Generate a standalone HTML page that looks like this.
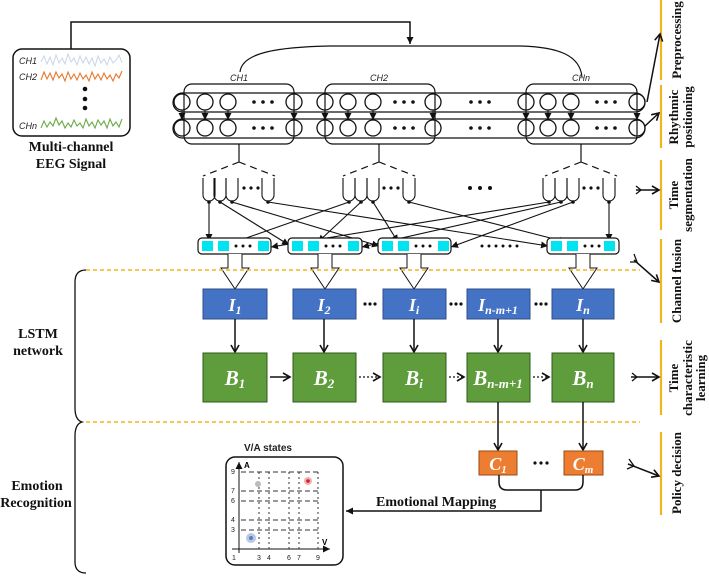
<!DOCTYPE html>
<html><head><meta charset="utf-8"><style>
html,body{margin:0;padding:0;background:#fff;}
svg{display:block;}
.lb{font-family:"Liberation Serif",serif;font-weight:bold;font-size:13px;fill:#111;}
.ch{font-family:"Liberation Sans",sans-serif;font-style:italic;font-size:9px;fill:#222;}
.bx{font-family:"Liberation Serif",serif;font-style:italic;font-weight:bold;fill:#fff;}
.sm{font-family:"Liberation Sans",sans-serif;font-size:7px;fill:#222;}
</style></head><body>
<svg width="709" height="583" viewBox="0 0 709 583" xmlns="http://www.w3.org/2000/svg">
<defs>
<marker id="a" markerWidth="8" markerHeight="8" refX="7" refY="4" orient="auto" markerUnits="userSpaceOnUse"><path d="M0,0.5 L7,4 L0,7.5 Z" fill="#111"/></marker>
<marker id="o" markerWidth="10" markerHeight="10" refX="8" refY="5" orient="auto" markerUnits="userSpaceOnUse"><path d="M1,1 L8,5 L1,9" fill="none" stroke="#111" stroke-width="1.6"/></marker>
</defs>

<rect x="13" y="49" width="117" height="87" rx="9" fill="#fff" stroke="#111" stroke-width="1.5"/>
<text class="ch" x="19" y="64">CH1</text>
<text class="ch" x="19" y="80">CH2</text>
<text class="ch" x="19" y="129">CHn</text>
<polyline fill="none" stroke="#c9d5ea" stroke-width="1" points="41,62 44,56 47,64 50,57 53,65 56,55 59,63 62,58 65,64 68,54 71,62 74,58 77,65 80,56 83,63 86,57 89,64 92,58 95,66 98,56 101,63 104,59 107,65 110,57 113,63 116,60 119,55 122,63"/>
<polyline fill="none" stroke="#e8782e" stroke-width="1.1" points="41,80 44,72 47,79 50,73 53,80 56,72 59,78 62,74 65,81 68,72 71,79 74,74 77,80 80,73 83,79 86,75 89,81 92,72 95,79 98,74 101,80 104,73 107,79 110,75 113,81 116,74 119,78 122,71"/>
<polyline fill="none" stroke="#6aaa45" stroke-width="1.1" points="41,128 44,121 47,127 50,122 53,126 56,118 59,125 62,121 65,128 68,123 71,127 74,120 77,126 80,123 83,128 86,119 89,126 92,122 95,128 98,120 101,125 104,121 107,128 110,119 113,126 116,122 119,127 122,119"/>
<circle cx="85" cy="89" r="2.3" fill="#111"/><circle cx="85" cy="99" r="2.3" fill="#111"/><circle cx="85" cy="108" r="2.3" fill="#111"/>
<text class="lb" x="71" y="151" text-anchor="middle" style="font-size:14px">Multi-channel</text>
<text class="lb" x="71" y="168" text-anchor="middle" style="font-size:14px">EEG Signal</text>

<polyline points="71,49 71,22 410,22 410,44" fill="none" stroke="#111" stroke-width="1.5" marker-end="url(#a)"/>
<path d="M240,72 C242,52 280,47 330,46 L520,46 C560,47 580,56 582,77" fill="none" stroke="#111" stroke-width="1.2"/>
<text class="ch" x="230" y="81">CH1</text>
<text class="ch" x="370" y="81">CH2</text>
<text class="ch" x="572" y="81">CHn</text>

<rect x="173" y="93" width="472" height="19" rx="9.5" fill="none" stroke="#111" stroke-width="1.2"/>
<rect x="173" y="119" width="472" height="19" rx="9.5" fill="none" stroke="#111" stroke-width="1.2"/>
<rect x="184" y="84" width="110" height="60" rx="8" fill="none" stroke="#111" stroke-width="1.2"/>
<rect x="325" y="84" width="110" height="60" rx="8" fill="none" stroke="#111" stroke-width="1.2"/>
<rect x="526" y="84" width="111" height="60" rx="8" fill="none" stroke="#111" stroke-width="1.2"/>
<g fill="none" stroke="#111" stroke-width="1.3">
<circle cx="182" cy="102" r="8"/><circle cx="205" cy="102" r="8"/><circle cx="228" cy="102" r="8"/><circle cx="294" cy="102" r="8"/>
<circle cx="325" cy="102" r="8"/><circle cx="348" cy="102" r="8"/><circle cx="373" cy="102" r="8"/><circle cx="433" cy="102" r="8"/>
<circle cx="526" cy="102" r="8"/><circle cx="548" cy="102" r="8"/><circle cx="571" cy="102" r="8"/><circle cx="637" cy="102" r="8"/>
<circle cx="182" cy="128" r="8"/><circle cx="205" cy="128" r="8"/><circle cx="228" cy="128" r="8"/><circle cx="294" cy="128" r="8"/>
<circle cx="325" cy="128" r="8"/><circle cx="348" cy="128" r="8"/><circle cx="373" cy="128" r="8"/><circle cx="433" cy="128" r="8"/>
<circle cx="526" cy="128" r="8"/><circle cx="548" cy="128" r="8"/><circle cx="571" cy="128" r="8"/><circle cx="637" cy="128" r="8"/>
</g>
<g fill="#111">
<circle cx="254" cy="102" r="1.8"/><circle cx="263" cy="102" r="1.8"/><circle cx="272" cy="102" r="1.8"/>
<circle cx="254" cy="128" r="1.8"/><circle cx="263" cy="128" r="1.8"/><circle cx="272" cy="128" r="1.8"/>
<circle cx="395" cy="102" r="1.8"/><circle cx="404" cy="102" r="1.8"/><circle cx="413" cy="102" r="1.8"/>
<circle cx="395" cy="128" r="1.8"/><circle cx="404" cy="128" r="1.8"/><circle cx="413" cy="128" r="1.8"/>
<circle cx="471" cy="102" r="1.8"/><circle cx="480" cy="102" r="1.8"/><circle cx="489" cy="102" r="1.8"/>
<circle cx="471" cy="128" r="1.8"/><circle cx="480" cy="128" r="1.8"/><circle cx="489" cy="128" r="1.8"/>
<circle cx="597" cy="102" r="1.8"/><circle cx="606" cy="102" r="1.8"/><circle cx="615" cy="102" r="1.8"/>
<circle cx="597" cy="128" r="1.8"/><circle cx="606" cy="128" r="1.8"/><circle cx="615" cy="128" r="1.8"/>
</g>
<g stroke="#111" stroke-width="1" marker-end="url(#a)">
<line x1="182" y1="110" x2="182" y2="120"/><line x1="205" y1="110" x2="205" y2="120"/><line x1="228" y1="110" x2="228" y2="120"/><line x1="294" y1="110" x2="294" y2="120"/>
<line x1="325" y1="110" x2="325" y2="120"/><line x1="348" y1="110" x2="348" y2="120"/><line x1="373" y1="110" x2="373" y2="120"/><line x1="433" y1="110" x2="433" y2="120"/>
<line x1="526" y1="110" x2="526" y2="120"/><line x1="548" y1="110" x2="548" y2="120"/><line x1="571" y1="110" x2="571" y2="120"/><line x1="637" y1="110" x2="637" y2="120"/>
</g>

<g fill="none" stroke="#111" stroke-width="1.2">
<line x1="239" y1="144" x2="239" y2="162"/><path d="M239,162 L203,176 M239,162 L275,176" stroke-dasharray="7,5"/>
<line x1="379" y1="144" x2="379" y2="162"/><path d="M379,162 L343,176 M379,162 L415,176" stroke-dasharray="7,5"/>
<line x1="581" y1="144" x2="581" y2="162"/><path d="M581,162 L545,176 M581,162 L617,176" stroke-dasharray="7,5"/>
</g>
<g fill="none" stroke="#111" stroke-width="1.1">
<path d="M203,178 V195 A6,6 0 0 0 215,195 V178"/><path d="M214,178 V195 A6,6 0 0 0 226,195 V178"/><path d="M226,178 V195 A6,6 0 0 0 238,195 V178"/><path d="M262,178 V195 A6,6 0 0 0 274,195 V178"/>
<path d="M343,178 V195 A6,6 0 0 0 355,195 V178"/><path d="M355,178 V195 A6,6 0 0 0 367,195 V178"/><path d="M367,178 V195 A6,6 0 0 0 379,195 V178"/><path d="M403,178 V195 A6,6 0 0 0 415,195 V178"/>
<path d="M543,178 V195 A6,6 0 0 0 555,195 V178"/><path d="M555,178 V195 A6,6 0 0 0 567,195 V178"/><path d="M567,178 V195 A6,6 0 0 0 579,195 V178"/><path d="M603,178 V195 A6,6 0 0 0 615,195 V178"/>
</g>
<g fill="#111">
<circle cx="244" cy="188" r="1.6"/><circle cx="251" cy="188" r="1.6"/><circle cx="258" cy="188" r="1.6"/>
<circle cx="384" cy="188" r="1.6"/><circle cx="391" cy="188" r="1.6"/><circle cx="398" cy="188" r="1.6"/>
<circle cx="584" cy="188" r="1.6"/><circle cx="591" cy="188" r="1.6"/><circle cx="598" cy="188" r="1.6"/>
<circle cx="470" cy="188" r="2"/><circle cx="480" cy="188" r="2"/><circle cx="490" cy="188" r="2"/>
<circle cx="209" cy="202" r="1.8"/><circle cx="220" cy="202" r="1.8"/><circle cx="232" cy="202" r="1.8"/><circle cx="268" cy="202" r="1.8"/>
<circle cx="349" cy="202" r="1.8"/><circle cx="361" cy="202" r="1.8"/><circle cx="373" cy="202" r="1.8"/><circle cx="409" cy="202" r="1.8"/>
<circle cx="549" cy="202" r="1.8"/><circle cx="561" cy="202" r="1.8"/><circle cx="573" cy="202" r="1.8"/><circle cx="609" cy="202" r="1.8"/>
</g>
<g stroke="#111" stroke-width="1.1" marker-end="url(#a)">
<line x1="209" y1="202" x2="209" y2="241"/>
<line x1="220" y1="202" x2="289" y2="245"/>
<line x1="232" y1="202" x2="379" y2="246"/>
<line x1="268" y1="202" x2="548" y2="246"/>
<line x1="349" y1="202" x2="232" y2="243"/>
<line x1="361" y1="202" x2="318" y2="242"/>
<line x1="373" y1="202" x2="398" y2="242"/>
<line x1="409" y1="202" x2="566" y2="242"/>
<line x1="549" y1="202" x2="271" y2="247"/>
<line x1="561" y1="202" x2="362" y2="247"/>
<line x1="573" y1="202" x2="451" y2="247"/>
<line x1="609" y1="202" x2="609" y2="241"/>
</g>

<g fill="#fff" stroke="#111" stroke-width="1.2">
<rect x="198" y="238" width="73" height="16" rx="4"/><rect x="288" y="238" width="74" height="16" rx="4"/>
<rect x="378" y="238" width="73" height="16" rx="4"/><rect x="547" y="238" width="72" height="16" rx="4"/>
</g>
<g fill="#00e3f0">
<rect x="202" y="241" width="11" height="10"/><rect x="218" y="241" width="11" height="10"/><rect x="258" y="241" width="11" height="10"/>
<rect x="292" y="241" width="11" height="10"/><rect x="308" y="241" width="11" height="10"/><rect x="348" y="241" width="11" height="10"/>
<rect x="382" y="241" width="11" height="10"/><rect x="398" y="241" width="11" height="10"/><rect x="438" y="241" width="11" height="10"/>
<rect x="551" y="241" width="11" height="10"/><rect x="567" y="241" width="11" height="10"/><rect x="604" y="241" width="11" height="10"/>
</g>
<g fill="#111">
<circle cx="236" cy="246" r="1.5"/><circle cx="243" cy="246" r="1.5"/><circle cx="250" cy="246" r="1.5"/>
<circle cx="326" cy="246" r="1.5"/><circle cx="333" cy="246" r="1.5"/><circle cx="340" cy="246" r="1.5"/>
<circle cx="416" cy="246" r="1.5"/><circle cx="423" cy="246" r="1.5"/><circle cx="430" cy="246" r="1.5"/>
<circle cx="585" cy="246" r="1.5"/><circle cx="592" cy="246" r="1.5"/><circle cx="599" cy="246" r="1.5"/>
<circle cx="482" cy="246" r="1.5"/><circle cx="489" cy="246" r="1.5"/><circle cx="496" cy="246" r="1.5"/><circle cx="503" cy="246" r="1.5"/><circle cx="510" cy="246" r="1.5"/><circle cx="517" cy="246" r="1.5"/>
</g>
<g fill="#fff" stroke="#111" stroke-width="1">
<path d="M228,254 V268 H221 L235,289 L249,268 H242 V254"/>
<path d="M318,254 V268 H311 L325,289 L339,268 H332 V254"/>
<path d="M407,254 V268 H400 L414,289 L428,268 H421 V254"/>
<path d="M576,254 V268 H569 L583,289 L597,268 H590 V254"/>
</g>

<line x1="86" y1="270" x2="640" y2="270" stroke="#f2b51d" stroke-width="1.6" stroke-dasharray="4,3"/>
<line x1="86" y1="422" x2="640" y2="422" stroke="#f2b51d" stroke-width="1.6" stroke-dasharray="4,3"/>

<g fill="#4472c4" stroke="#2f4f86" stroke-width="1">
<rect x="203" y="289" width="64" height="30"/><rect x="293" y="289" width="63" height="30"/><rect x="383" y="289" width="63" height="30"/>
<rect x="467" y="289" width="63" height="30"/><rect x="552" y="289" width="62" height="30"/>
</g>
<text class="bx" x="235" y="311" text-anchor="middle" style="font-size:18px">I<tspan style="font-size:12px" dy="3">1</tspan></text>
<text class="bx" x="324" y="311" text-anchor="middle" style="font-size:18px">I<tspan style="font-size:12px" dy="3">2</tspan></text>
<text class="bx" x="414" y="311" text-anchor="middle" style="font-size:18px">I<tspan style="font-size:12px" dy="3">i</tspan></text>
<text class="bx" x="498" y="311" text-anchor="middle" style="font-size:18px">I<tspan style="font-size:12px" dy="3">n-m+1</tspan></text>
<text class="bx" x="583" y="311" text-anchor="middle" style="font-size:18px">I<tspan style="font-size:12px" dy="3">n</tspan></text>
<g fill="#111">
<circle cx="365" cy="304" r="1.6"/><circle cx="370" cy="304" r="1.6"/><circle cx="375" cy="304" r="1.6"/>
<circle cx="451" cy="304" r="1.6"/><circle cx="456" cy="304" r="1.6"/><circle cx="461" cy="304" r="1.6"/>
<circle cx="536" cy="304" r="1.6"/><circle cx="541" cy="304" r="1.6"/><circle cx="546" cy="304" r="1.6"/>
</g>
<g stroke="#111" stroke-width="1.5" marker-end="url(#o)">
<line x1="235" y1="319" x2="235" y2="352"/><line x1="324" y1="319" x2="324" y2="352"/><line x1="414" y1="319" x2="414" y2="352"/>
<line x1="498" y1="319" x2="498" y2="352"/><line x1="583" y1="319" x2="583" y2="352"/>
</g>
<g fill="#5e9c3c" stroke="#2f5a1c" stroke-width="1">
<rect x="203" y="353" width="64" height="49"/><rect x="293" y="353" width="63" height="49"/><rect x="383" y="353" width="63" height="49"/>
<rect x="467" y="353" width="63" height="49"/><rect x="552" y="353" width="62" height="49"/>
</g>
<text class="bx" x="235" y="385" text-anchor="middle" style="font-size:21px">B<tspan style="font-size:13px" dy="3">1</tspan></text>
<text class="bx" x="324" y="385" text-anchor="middle" style="font-size:21px">B<tspan style="font-size:13px" dy="3">2</tspan></text>
<text class="bx" x="414" y="385" text-anchor="middle" style="font-size:21px">B<tspan style="font-size:13px" dy="3">i</tspan></text>
<text class="bx" x="498" y="385" text-anchor="middle" style="font-size:21px">B<tspan style="font-size:13px" dy="3">n-m+1</tspan></text>
<text class="bx" x="583" y="385" text-anchor="middle" style="font-size:21px">B<tspan style="font-size:13px" dy="3">n</tspan></text>
<line x1="270" y1="377" x2="290" y2="377" stroke="#111" stroke-width="1.6" marker-end="url(#o)"/>
<g stroke="#111" stroke-width="1.2" stroke-dasharray="2,2" marker-end="url(#o)">
<line x1="359" y1="377" x2="380" y2="377"/><line x1="449" y1="377" x2="464" y2="377"/><line x1="533" y1="377" x2="549" y2="377"/>
</g>
<g stroke="#111" stroke-width="1.5" marker-end="url(#o)">
<line x1="498" y1="402" x2="498" y2="450"/><line x1="583" y1="402" x2="583" y2="450"/>
</g>
<g fill="#ed7d31" stroke="#9a4a15" stroke-width="1">
<rect x="479" y="451" width="38" height="24"/><rect x="564" y="451" width="39" height="24"/>
</g>
<text class="bx" x="498" y="470" text-anchor="middle" style="font-size:18px">C<tspan style="font-size:11px" dy="3">1</tspan></text>
<text class="bx" x="583" y="470" text-anchor="middle" style="font-size:18px">C<tspan style="font-size:11px" dy="3">m</tspan></text>
<g fill="#111"><circle cx="535" cy="463" r="1.6"/><circle cx="541" cy="463" r="1.6"/><circle cx="547" cy="463" r="1.6"/></g>
<path d="M499,475 V482 Q499,490 507,490 H575 Q583,490 583,482 V475" fill="none" stroke="#111" stroke-width="1.5"/>
<polyline points="541,490 541,511 346,511" fill="none" stroke="#111" stroke-width="1.5" marker-end="url(#a)"/>
<text class="lb" x="376" y="506" style="font-size:14px">Emotional Mapping</text>

<text x="244" y="451" style="font-family:'Liberation Sans',sans-serif;font-weight:bold;font-size:10px;fill:#222">V/A states</text>
<rect x="226" y="457" width="117" height="108" rx="9" fill="#fff" stroke="#111" stroke-width="1.5"/>
<line x1="239" y1="553" x2="239" y2="462" stroke="#111" stroke-width="1" marker-end="url(#a)"/>
<line x1="232" y1="549" x2="330" y2="549" stroke="#111" stroke-width="1" marker-end="url(#a)"/>
<text x="244" y="468" style="font-family:'Liberation Sans',sans-serif;font-weight:bold;font-size:8px">A</text>
<text x="322" y="545" style="font-family:'Liberation Sans',sans-serif;font-weight:bold;font-size:8px">V</text>
<g stroke="#333" stroke-width="1" stroke-dasharray="5,3" fill="none">
<line x1="241" y1="472" x2="318" y2="472"/><line x1="241" y1="491" x2="318" y2="491"/><line x1="241" y1="501" x2="318" y2="501"/>
<line x1="241" y1="520" x2="318" y2="520"/><line x1="241" y1="530" x2="318" y2="530"/>
</g>
<g stroke="#333" stroke-width="1" stroke-dasharray="2,3">
<line x1="259" y1="472" x2="259" y2="552"/><line x1="269" y1="472" x2="269" y2="552"/><line x1="289" y1="472" x2="289" y2="552"/>
<line x1="299" y1="472" x2="299" y2="552"/><line x1="318" y1="472" x2="318" y2="552"/>
</g>
<text class="sm" x="231" y="474">9</text><text class="sm" x="231" y="493">7</text><text class="sm" x="231" y="503">6</text>
<text class="sm" x="231" y="522">4</text><text class="sm" x="231" y="532">3</text><text class="sm" x="232" y="560">1</text>
<text class="sm" x="257" y="560">3</text><text class="sm" x="267" y="560">4</text><text class="sm" x="287" y="560">6</text><text class="sm" x="297" y="560">7</text><text class="sm" x="316" y="560">9</text>
<circle cx="258" cy="484" r="3" fill="#bbb"/>
<circle cx="308" cy="481" r="4" fill="#f3b0b0"/><circle cx="308" cy="481" r="1.8" fill="#d02020"/>
<circle cx="251" cy="538" r="5" fill="#b7c9e4"/><circle cx="251" cy="538" r="2" fill="#5a7fbf"/>

<path d="M86,270 Q75,270 75,282 L75,408 Q75,420 82,422 Q75,424 75,436 L75,562 Q75,573 86,573" fill="none" stroke="#111" stroke-width="1.3"/>
<text class="lb" x="38" y="338" text-anchor="middle" style="font-size:14px">LSTM</text>
<text class="lb" x="38" y="355" text-anchor="middle" style="font-size:14px">network</text>
<text class="lb" x="37" y="490" text-anchor="middle" style="font-size:14px">Emotion</text>
<text class="lb" x="36" y="507" text-anchor="middle" style="font-size:14px">Recognition</text>

<g stroke="#f2b51d" stroke-width="2.2">
<line x1="661" y1="0" x2="661" y2="80"/><line x1="661" y1="85" x2="661" y2="148"/><line x1="661" y1="160" x2="661" y2="230"/>
<line x1="661" y1="239" x2="661" y2="323"/><line x1="661" y1="340" x2="661" y2="415"/><line x1="661" y1="432" x2="661" y2="515"/>
</g>
<g stroke="#111" stroke-width="1.5" fill="none" marker-end="url(#o)">
<line x1="647" y1="102" x2="660" y2="34"/>
<line x1="645" y1="126" x2="659" y2="113"/>
<line x1="636" y1="190" x2="659" y2="190"/>
<line x1="634" y1="260" x2="659" y2="282"/>
<line x1="631" y1="377" x2="659" y2="377"/>
<line x1="628" y1="464" x2="659" y2="476"/>
</g>
<g stroke="#111" stroke-width="1.3" fill="none">
<path d="M636,186 L641,190 L636,194"/><path d="M632,373 L637,377 L632,381"/>
<path d="M634,254 L637,262 L630,262"/><path d="M629,459 L634,466 L627,469"/>
</g>
<g class="lb">
<text transform="translate(681,40) rotate(-90)" text-anchor="middle">Preprocessing</text>
<text transform="translate(678,117) rotate(-90)" text-anchor="middle">Rhythmic</text>
<text transform="translate(692,117) rotate(-90)" text-anchor="middle">positioning</text>
<text transform="translate(678,195) rotate(-90)" text-anchor="middle">Time</text>
<text transform="translate(692,195) rotate(-90)" text-anchor="middle">segmentation</text>
<text transform="translate(681,281) rotate(-90)" text-anchor="middle">Channel fusion</text>
<text transform="translate(678,378) rotate(-90)" text-anchor="middle">Time</text>
<text transform="translate(692,378) rotate(-90)" text-anchor="middle">characteristic</text>
<text transform="translate(705,378) rotate(-90)" text-anchor="middle">learning</text>
<text transform="translate(681,473) rotate(-90)" text-anchor="middle">Policy decision</text>
</g>
</svg>
</body></html>
